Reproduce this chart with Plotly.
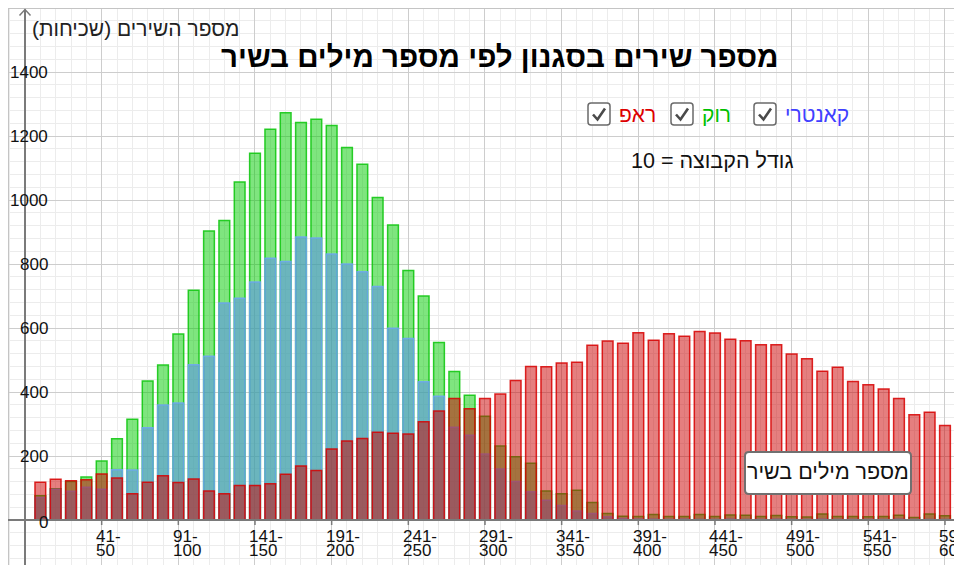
import plotly.graph_objects as go

# ---------------- data ----------------
bin_upper = [10, 20, 30, 40, 50, 60, 70, 80, 90, 100,
             110, 120, 130, 140, 150, 160, 170, 180, 190, 200,
             210, 220, 230, 240, 250, 260, 270, 280, 290, 300,
             310, 320, 330, 340, 350, 360, 370, 380, 390, 400,
             410, 420, 430, 440, 450, 460, 470, 480, 490, 500,
             510, 520, 530, 540, 550, 560, 570, 580, 590, 600, 610]

rock = [76, 98, 120, 134, 184, 254, 315, 434, 484, 581,
        718, 903, 936, 1056, 1146, 1221, 1273, 1242, 1252, 1233,
        1164, 1112, 1008, 922, 780, 700, 555, 464, 390, 324,
        231, 198, 177, 91, 82, 93, 55, 20, 12, 11,
        17, 11, 11, 17, 11, 16, 15, 11, 14, 10,
        9, 19, 11, 11, 10, 11, 15, 8, 19, 13, 11]

country = [70, 96, 90, 102, 96, 157, 156, 288, 359, 366,
           485, 512, 678, 693, 744, 818, 808, 884, 881, 831,
           800, 776, 730, 599, 567, 432, 387, 290, 265, 206,
           159, 120, 88, 62, 45, 28, 20, 10, 5, 3,
           3, 2, 3, 2, 2, 3, 2, 2, 3, 2,
           2, 3, 2, 2, 2, 2, 3, 2, 2, 2, 2]

rap = [118, 127, 123, 126, 144, 131, 82, 118, 138, 117,
       128, 91, 82, 108, 108, 113, 143, 169, 155, 222,
       247, 255, 274, 271, 269, 307, 341, 380, 348, 380,
       394, 436, 480, 479, 491, 493, 546, 559, 552, 585,
       562, 582, 574, 589, 584, 565, 560, 548, 548, 519,
       504, 465, 477, 433, 423, 409, 380, 329, 337, 295, 281]

x_tick_vals = [50, 100, 150, 200, 250, 300, 350, 400, 450, 500, 550, 600]
x_tick_top = ["41-", "91-", "141-", "191-", "241-", "291-", "341-", "391-",
              "441-", "491-", "541-", "591-"]
x_tick_bottom = ["50", "100", "150", "200", "250", "300", "350", "400",
                 "450", "500", "550", "600"]
y_tick_vals = [0, 200, 400, 600, 800, 1000, 1200, 1400]

series_names = ["רוק", "קאנטרי", "ראפ"]

# ---------------- geometry (page pixels; page body has an 8px margin) ----------------
PAGE_W, PAGE_H = 962, 565
OFF = 8
W, H = PAGE_W - OFF, PAGE_H - OFF
X0PX, XK = 25.0, 1.5333     # page pixel of x=0, px per unit
Y0PX, YK = 520.0, 0.32      # page pixel of y=0, px per unit
x_range = [(OFF - X0PX) / XK, (PAGE_W - X0PX) / XK]
y_range = [(Y0PX - PAGE_H) / YK, (Y0PX - OFF) / YK]


def pxp(px):
    return (px - OFF) / W


def pyp(py):
    return (PAGE_H - py) / H


FONT = "Liberation Sans, Arial, DejaVu Sans, sans-serif"
RLM = "\u200f"

fig = go.Figure()

styles = [
    ("rgba(0,204,0,0.5)", "rgba(20,200,20,0.9)"),
    ("rgba(88,134,252,0.5)", "rgba(110,165,245,0.85)"),
    ("rgba(204,0,0,0.5)", "rgba(215,0,0,0.85)"),
]
for name, vals, (fill, edge) in zip(series_names, [rock, country, rap], styles):
    fig.add_bar(x=bin_upper, y=vals, width=7, name=name, showlegend=False,
                marker=dict(color=fill, line=dict(color=edge, width=1.5)),
                hoverinfo="x+y+name")

shapes = []
annos = []

# frame
shapes.append(dict(type="line", xref="paper", yref="paper", x0=0, x1=0, y0=0, y1=1,
                   line=dict(color="#c4c4c4", width=2)))
shapes.append(dict(type="line", xref="paper", yref="paper", x0=0, x1=1, y0=1, y1=1,
                   line=dict(color="#c4c4c4", width=2)))

# axes
ax_col = "#7a7a7a"
shapes.append(dict(type="line", xref="paper", yref="paper",
                   x0=pxp(X0PX), x1=pxp(X0PX), y0=0, y1=pyp(9.5),
                   line=dict(color=ax_col, width=2), layer="above"))
shapes.append(dict(type="line", xref="paper", yref="paper",
                   x0=0, x1=pxp(961), y0=pyp(Y0PX), y1=pyp(Y0PX),
                   line=dict(color=ax_col, width=2), layer="above"))
# arrow heads
shapes.append(dict(type="path", xref="paper", yref="paper",
                   path=f"M {pxp(X0PX-5.5)},{pyp(15.5)} L {pxp(X0PX)},{pyp(9.5)} L {pxp(X0PX+5.5)},{pyp(15.5)}",
                   line=dict(color=ax_col, width=1.5), layer="above"))
shapes.append(dict(type="path", xref="paper", yref="paper",
                   path=f"M {pxp(955)},{pyp(Y0PX-5.5)} L {pxp(961)},{pyp(Y0PX)} L {pxp(955)},{pyp(Y0PX+5.5)}",
                   line=dict(color=ax_col, width=1.5), layer="above"))

# x ticks + labels
for v, top, bot in zip(x_tick_vals, x_tick_top, x_tick_bottom):
    shapes.append(dict(type="line", xref="x", yref="paper", x0=v, x1=v,
                       y0=pyp(Y0PX), y1=pyp(Y0PX + 5),
                       line=dict(color=ax_col, width=1.5), layer="above"))
    for txt, yc in ((top, 536.5), (bot, 550)):
        annos.append(dict(x=v, xref="x", y=pyp(yc), yref="paper", text=txt,
                          xanchor="left", yanchor="middle", xshift=-7.6,
                          showarrow=False, font=dict(family=FONT, size=17, color="#111")))

# y labels
for v in y_tick_vals:
    annos.append(dict(x=pxp(49.5), xref="paper", y=v, yref="y", text=str(v),
                      xanchor="right", yanchor="middle", yshift=-2 if v == 0 else 0,
                      showarrow=False, font=dict(family=FONT, size=17, color="#111")))

# title and axis title
annos.append(dict(x=pxp(500), y=pyp(56), xref="paper", yref="paper",
                  text="<b>מספר שירים בסגנון לפי מספר מילים בשיר</b>",
                  xanchor="center", yanchor="middle", showarrow=False,
                  font=dict(family=FONT, size=29.5, color="#000")))
annos.append(dict(x=pxp(30), y=pyp(28), xref="paper", yref="paper",
                  text=RLM + "מספר השירים (שכיחות)" + RLM,
                  xanchor="left", yanchor="middle", showarrow=False,
                  font=dict(family=FONT, size=21, color="#222")))

# legend with checkboxes
legend_items = [("ראפ", "#dd0000", 588), ("רוק", "#00c000", 671), ("קאנטרי", "#4040ff", 754)]


def rrect(x0, y0, x1, y1, r):
    pts = [
        f"M {pxp(x0+r)},{pyp(y0)}", f"L {pxp(x1-r)},{pyp(y0)}",
        f"Q {pxp(x1)},{pyp(y0)} {pxp(x1)},{pyp(y0+r)}", f"L {pxp(x1)},{pyp(y1-r)}",
        f"Q {pxp(x1)},{pyp(y1)} {pxp(x1-r)},{pyp(y1)}", f"L {pxp(x0+r)},{pyp(y1)}",
        f"Q {pxp(x0)},{pyp(y1)} {pxp(x0)},{pyp(y1-r)}", f"L {pxp(x0)},{pyp(y0+r)}",
        f"Q {pxp(x0)},{pyp(y0)} {pxp(x0+r)},{pyp(y0)}", "Z",
    ]
    return " ".join(pts)


for label, col, bx in legend_items:
    by = 103
    shapes.append(dict(type="path", xref="paper", yref="paper", path=rrect(bx, by, bx + 22, by + 22, 3),
                       fillcolor="white", line=dict(color="#6a6a6a", width=1.5), layer="above"))
    shapes.append(dict(type="path", xref="paper", yref="paper",
                       path=f"M {pxp(bx+5)},{pyp(by+11.5)} L {pxp(bx+9.5)},{pyp(by+16.5)} L {pxp(bx+17)},{pyp(by+5.5)}",
                       line=dict(color="#4a4a4a", width=2.6), layer="above"))
    annos.append(dict(x=pxp(bx + 29), y=pyp(114), xref="paper", yref="paper", text=label,
                      xanchor="left", yanchor="middle", showarrow=False,
                      font=dict(family=FONT, size=21, color=col)))

annos.append(dict(x=pxp(712), y=pyp(161), xref="paper", yref="paper",
                  text="10 = גודל הקבוצה", xanchor="center", yanchor="middle", showarrow=False,
                  font=dict(family=FONT, size=21.5, color="#111")))

# x-axis caption box
shapes.append(dict(type="path", xref="paper", yref="paper", path=rrect(745, 452, 911, 494, 4),
                   fillcolor="white", line=dict(color="#707070", width=2), layer="above"))
annos.append(dict(x=pxp(828), y=pyp(472), xref="paper", yref="paper",
                  text="מספר מילים בשיר", xanchor="center", yanchor="middle", showarrow=False,
                  font=dict(family=FONT, size=21.5, color="#111")))

fig.update_layout(
    width=W, height=H,
    margin=dict(l=0, r=0, t=0, b=0, pad=0),
    paper_bgcolor="white", plot_bgcolor="white",
    barmode="overlay", showlegend=False,
    shapes=shapes, annotations=annos,
    xaxis=dict(range=x_range, showgrid=True, gridcolor="#cdcdcd", gridwidth=1,
               tick0=0, dtick=50, zeroline=False, showline=False, showticklabels=False, ticks="",
               minor=dict(dtick=10, tick0=0, showgrid=True, gridcolor="#ececec", gridwidth=1, ticks=""),
               fixedrange=True),
    yaxis=dict(range=y_range, showgrid=True, gridcolor="#cdcdcd", gridwidth=1,
               tick0=0, dtick=200, zeroline=False, showline=False, showticklabels=False, ticks="",
               minor=dict(dtick=40, tick0=0, showgrid=True, gridcolor="#ececec", gridwidth=1, ticks=""),
               fixedrange=True),
)

fig.write_html("out.html", config={"displayModeBar": False})
